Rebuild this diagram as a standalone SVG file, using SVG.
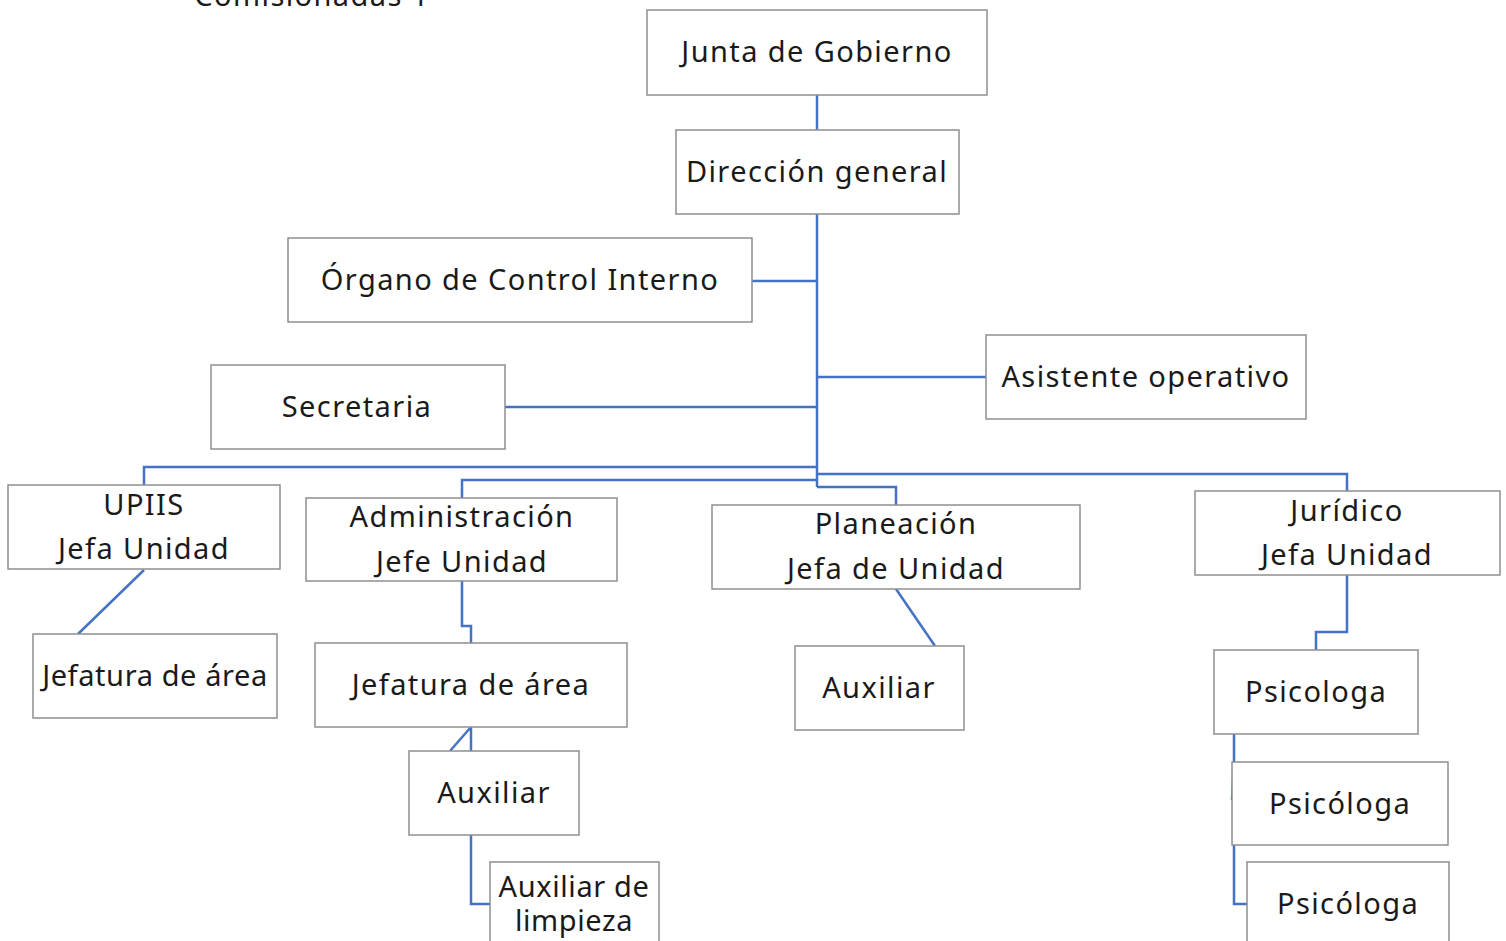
<svg xmlns="http://www.w3.org/2000/svg" width="1506" height="941" viewBox="0 0 1506 941">
<style>
.box{fill:#fff;stroke:#8f8f8f;stroke-width:1.5}
.t{font-family:"Noto Sans","Liberation Sans",sans-serif;font-size:29px;fill:#1a1a1a;text-anchor:middle;letter-spacing:1.4px}
.c{fill:none;stroke:#4472C4;stroke-width:2.5}
</style>
<rect width="1506" height="941" fill="#fff"/>
<text class="t" x="312" y="6">Comisionadas 1</text>
<g id="connectors">
<path class="c" d="M817 95V130"/>
<path class="c" d="M817 214V487"/>
<path class="c" d="M752 281H817"/>
<path class="c" d="M817 377H986"/>
<path class="c" d="M505 407H817"/>
<path class="c" d="M817 467H144V485"/>
<path class="c" d="M817 480H462V498"/>
<path class="c" d="M817 487H896V505"/>
<path class="c" d="M817 474H1347V491"/>
<path class="c" d="M144 570L78 634"/>
<path class="c" d="M462 581V626H471V643"/>
<path class="c" d="M471 727L450 751M471 727V751"/>
<path class="c" d="M471 835V904H490"/>
<path class="c" d="M896 589L935 646"/>
<path class="c" d="M1347 575V632H1316V650"/>
<path class="c" d="M1234 734V762L1232 800"/>
<path class="c" d="M1234 845V904H1247"/>
</g>
<g id="n-junta"><rect class="box" x="647" y="10" width="340" height="85"/><text class="t" x="817" y="62">Junta de Gobierno</text></g>
<g id="n-direccion"><rect class="box" x="676" y="130" width="283" height="84"/><text class="t" x="817" y="182">Dirección general</text></g>
<g id="n-organo"><rect class="box" x="288" y="238" width="464" height="84"/><text class="t" x="520" y="290">Órgano de Control Interno</text></g>
<g id="n-asistente"><rect class="box" x="986" y="335" width="320" height="84"/><text class="t" x="1146" y="387">Asistente operativo</text></g>
<g id="n-secretaria"><rect class="box" x="211" y="365" width="294" height="84"/><text class="t" x="357" y="417">Secretaria</text></g>
<g id="n-upiis"><rect class="box" x="8" y="485" width="272" height="84"/><text class="t" x="144" y="515">UPIIS</text><text class="t" x="144" y="559">Jefa Unidad</text></g>
<g id="n-admin"><rect class="box" x="306" y="498" width="311" height="83"/><text class="t" x="462" y="527">Administración</text><text class="t" x="462" y="572">Jefe Unidad</text></g>
<g id="n-planeacion"><rect class="box" x="712" y="505" width="368" height="84"/><text class="t" x="896" y="534">Planeación</text><text class="t" x="896" y="579">Jefa de Unidad</text></g>
<g id="n-juridico"><rect class="box" x="1195" y="491" width="305" height="84"/><text class="t" x="1347" y="521">Jurídico</text><text class="t" x="1347" y="565">Jefa Unidad</text></g>
<g id="n-jefatura1"><rect class="box" x="33" y="634" width="244" height="84"/><text class="t" x="155" y="686" style="letter-spacing:0.6px">Jefatura de área</text></g>
<g id="n-jefatura2"><rect class="box" x="315" y="643" width="312" height="84"/><text class="t" x="471" y="695">Jefatura de área</text></g>
<g id="n-auxiliar1"><rect class="box" x="409" y="751" width="170" height="84"/><text class="t" x="494" y="803">Auxiliar</text></g>
<g id="n-limpieza"><rect class="box" x="490" y="862" width="169" height="90"/><text class="t" x="574" y="897" style="letter-spacing:0.6px">Auxiliar de</text><text class="t" x="574" y="931" style="letter-spacing:0.6px">limpieza</text></g>
<g id="n-auxiliar2"><rect class="box" x="795" y="646" width="169" height="84"/><text class="t" x="879" y="698">Auxiliar</text></g>
<g id="n-psico1"><rect class="box" x="1214" y="650" width="204" height="84"/><text class="t" x="1316" y="702">Psicologa</text></g>
<g id="n-psico2"><rect class="box" x="1232" y="762" width="216" height="83"/><text class="t" x="1340" y="814">Psicóloga</text></g>
<g id="n-psico3"><rect class="box" x="1247" y="862" width="202" height="90"/><text class="t" x="1348" y="914">Psicóloga</text></g>
</svg>
